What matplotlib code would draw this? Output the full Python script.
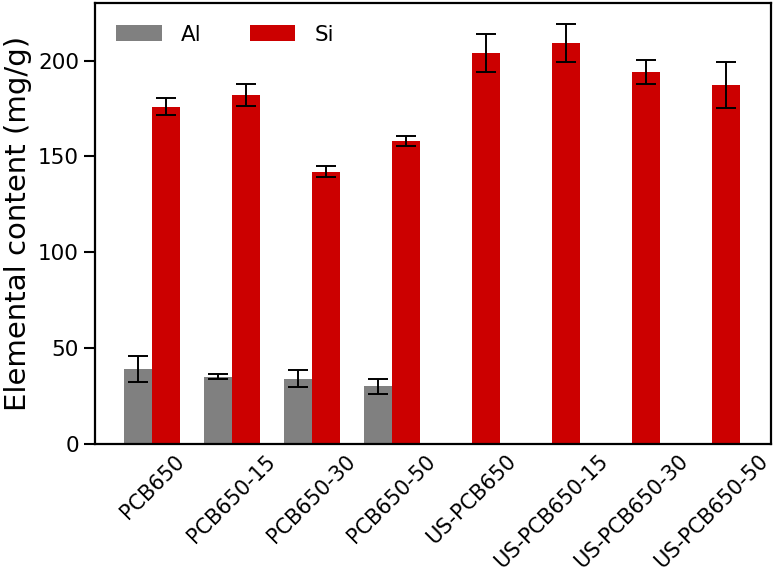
import numpy as np
import matplotlib
matplotlib.use("Agg")
import matplotlib.pyplot as plt

samples = ["PCB650", "PCB650-15", "PCB650-30", "PCB650-50",
           "US-PCB650", "US-PCB650-15", "US-PCB650-30", "US-PCB650-50"]
al = [39, 35.2, 34.1, 30.1, 0, 0, 0, 0]
al_err = [6.8, 1.1, 4.3, 3.9, 0, 0, 0, 0]
si = [176, 182, 142, 158, 204, 209, 194, 187]
si_err = [4.5, 5.9, 3.0, 2.5, 10, 10, 6.5, 12]

plt.rcParams["font.family"] = "DejaVu Sans"
fig = plt.figure(figsize=(7.74, 5.77), dpi=100)
ax = fig.add_axes([0.1227, 0.2305, 0.8733, 0.7643])

x = np.arange(len(samples))
w = 0.35
ebar = dict(ecolor="black", elinewidth=1.4, capsize=7, capthick=1.4)

# no Al bars for the US samples
al_show = [v if v > 0 else np.nan for v in al]
al_err_show = [e if v > 0 else np.nan for v, e in zip(al, al_err)]
ax.bar(x - w / 2, al_show, w, yerr=al_err_show, color="#808080",
       label="Al", error_kw=ebar)
ax.bar(x + w / 2, si, w, yerr=si_err, color="#cc0000",
       label="Si", error_kw=ebar)

ax.set_xlim(-0.7125, 7.74)
ax.set_ylim(0, 230)
ax.set_yticks([0, 50, 100, 150, 200])
ax.set_xticks(x)
ax.set_xticklabels(samples, rotation=45, ha="center")
ax.tick_params(axis="x", length=0, pad=5, labelsize=15)
ax.tick_params(axis="y", length=8, width=1.5, labelsize=15.5, direction="out")
for s in ax.spines.values():
    s.set_linewidth(1.6)

ax.set_ylabel("Elemental content (mg/g)", fontsize=21, labelpad=4)

ax.legend(loc="upper left", ncol=2, frameon=False, fontsize=15.5,
          handlelength=2.1, handleheight=0.7, columnspacing=2.25,
          handletextpad=0.9, borderaxespad=0.6, bbox_to_anchor=(0.0, 1.0))

fig.savefig("out.png", dpi=100)
